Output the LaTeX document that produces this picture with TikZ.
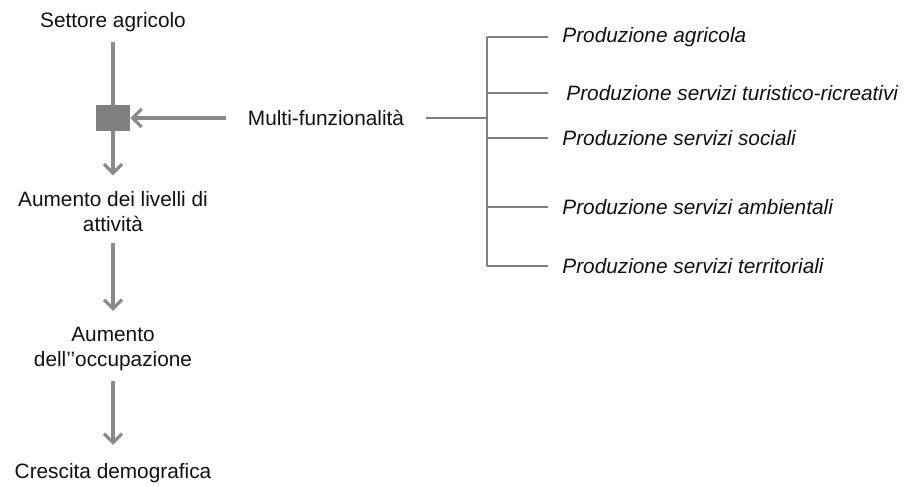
\documentclass[tikz,border=0pt]{standalone}
\usepackage{fontspec}
\setmainfont{Liberation Sans}
\usetikzlibrary{arrows.meta,positioning,calc}
\definecolor{ink}{HTML}{111111}
\definecolor{arrowgray}{HTML}{8A8A8A}
\definecolor{boxgray}{HTML}{808080}
\definecolor{linegray}{HTML}{7E7E7E}
\tikzset{
  txt/.style={font=\fontsize{10.4}{12.5}\selectfont, text=ink, align=center, inner sep=0pt},
  item/.style={txt, font=\fontsize{10.4}{12.5}\selectfont\itshape, anchor=west},
  junction/.style={draw=none, fill=boxgray, minimum width=17pt, minimum height=13pt, inner sep=0pt},
  feed/.style={line width=1.6pt, draw=arrowgray},
  arrow/.style={feed, -{Straight Barb[length=4.5pt,width=9pt]}},
  branch/.style={line width=0.8pt, draw=linegray}
}

\begin{document}
\begin{tikzpicture}[x=0.5pt,y=-0.5pt]
\useasboundingbox (0,0) rectangle (910,487);
% main chain
\node[txt] (settore) at (113,22) {Settore agricolo};
\node[junction] (box) at (113,118) {};
\node[txt] (livelli) at (113,212) {Aumento dei livelli di\\attività};
\node[txt] (occup) at (113,349) {Aumento\\dell{'}{'}occupazione};
\node[txt] (crescita) at (113,473) {Crescita demografica};
\draw[feed] ([yshift=-5pt]settore.south) -- (box);
\draw[arrow] (box) -- ([yshift=8pt]livelli.north);
\draw[arrow] ([yshift=-5pt]livelli.south) -- ([yshift=8pt]occup.north);
\draw[arrow] ([yshift=-5pt]occup.south) -- ([yshift=9pt]crescita.north);
% multi-funzionalita and its outputs
\node[txt, inner xsep=11pt] (multi) at (326,118) {Multi-funzionalità};
\draw[arrow] (multi.west) -- (box.east);
\coordinate (fork) at (487,118);
\node[item] (p1) at (562,37) {Produzione agricola};
\node[item] (p2) at (566,93) {Produzione servizi turistico-ricreativi};
\node[item] (p3) at (562,138) {Produzione servizi sociali};
\node[item] (p4) at (562,207) {Produzione servizi ambientali};
\node[item] (p5) at (562,266) {Produzione servizi territoriali};
\draw[branch, line width=1pt] (multi.east) -- (fork);
\draw[branch] (fork |- p1.west) -- (fork |- p5.west);
\foreach \p in {p1,p2,p3,p4,p5}
  \draw[branch] (fork |- \p.west) -- (548,0 |- \p.west);
\end{tikzpicture}
\end{document}
